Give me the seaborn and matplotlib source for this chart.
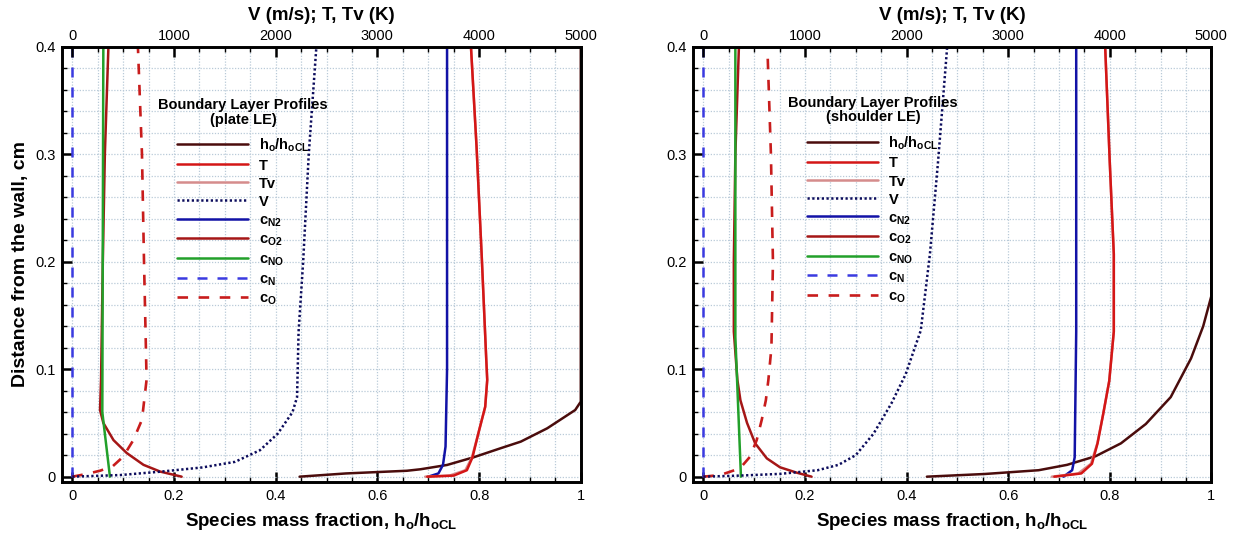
import matplotlib
matplotlib.use("Agg")
import matplotlib.pyplot as plt
from matplotlib.ticker import MultipleLocator, FuncFormatter
import seaborn as sns

# ---------------- data ----------------
# distance from the wall (cm) and profile values
# --- plate LE (left panel) ---
PL_HO_Y = [0, 0.003, 0.0055, 0.0069, 0.0109, 0.018, 0.0264, 0.0326, 0.045, 0.062, 0.0698, 0.4]
PL_HO = [0.447, 0.538, 0.658, 0.685, 0.737, 0.789, 0.842, 0.882, 0.934, 0.989, 1.0, 1.0]
PL_T_Y = [0, 0.001, 0.006, 0.018, 0.043, 0.065, 0.09, 0.11, 0.207, 0.307, 0.4]
PL_T = [3490, 3750, 3880, 3935, 4000, 4060, 4080, 4070, 4025, 3975, 3920]
PL_TV = [3470, 3710, 3865, 3930, 4000, 4060, 4080, 4070, 4025, 3975, 3920]
PL_V_Y = [0, 0.0015, 0.0046, 0.0086, 0.0138, 0.0246, 0.04, 0.06, 0.074, 0.135, 0.2, 0.3, 0.4]
PL_V = [0, 470, 860, 1280, 1600, 1845, 2020, 2165, 2210, 2225, 2270, 2325, 2400]
PL_N2_Y = [0, 0.003, 0.011, 0.028, 0.1, 0.4]
PL_N2 = [0.70, 0.72, 0.729, 0.734, 0.737, 0.737]
PL_O2_Y = [0, 0.0047, 0.011, 0.022, 0.034, 0.050, 0.062, 0.09, 0.2, 0.3, 0.4]
PL_O2 = [0.215, 0.173, 0.14, 0.107, 0.081, 0.061, 0.0545, 0.0565, 0.06, 0.064, 0.071]
PL_NO_Y = [0, 0.06, 0.4]
PL_NO = [0.074, 0.059, 0.061]
PL_N_Y = [0, 0.4]
PL_N = [0.0, 0.0]
PL_O_Y = [0, 0.0025, 0.0056, 0.0099, 0.0186, 0.034, 0.053, 0.09, 0.114, 0.2, 0.3, 0.4]
PL_O = [0, 0.028, 0.055, 0.08, 0.1, 0.12, 0.137, 0.146, 0.145, 0.141, 0.137, 0.129]

# --- shoulder LE (right panel) ---
SH_HO_Y = [0, 0.0025, 0.006, 0.011, 0.019, 0.031, 0.049, 0.074, 0.11, 0.14, 0.168, 0.4]
SH_HO = [0.44, 0.554, 0.66, 0.716, 0.772, 0.822, 0.871, 0.92, 0.96, 0.984, 1.0, 1.0]
SH_T_Y = [0, 0.003, 0.012, 0.031, 0.058, 0.089, 0.135, 0.207, 0.293, 0.4]
SH_T = [3455, 3720, 3825, 3880, 3935, 3995, 4040, 4040, 4000, 3955]
SH_TV = [3430, 3690, 3815, 3878, 3935, 3995, 4040, 4040, 4000, 3955]
SH_V_Y = [0, 0.001, 0.0026, 0.006, 0.011, 0.02, 0.04, 0.068, 0.095, 0.136, 0.207, 0.293, 0.4]
SH_V = [0, 360, 755, 1125, 1330, 1500, 1675, 1850, 1990, 2140, 2230, 2310, 2400]
SH_N2_Y = [0, 0.006, 0.018, 0.135, 0.4]
SH_N2 = [0.709, 0.726, 0.731, 0.734, 0.734]
SH_O2_Y = [0, 0.0037, 0.0087, 0.017, 0.031, 0.05, 0.071, 0.09, 0.135, 0.2, 0.3, 0.4]
SH_O2 = [0.213, 0.184, 0.151, 0.125, 0.102, 0.086, 0.073, 0.067, 0.06, 0.06, 0.063, 0.070]
SH_NO_Y = [0, 0.13, 0.4]
SH_NO = [0.074, 0.063, 0.063]
SH_N_Y = [0, 0.4]
SH_N = [0.0, 0.0]
SH_O_Y = [0, 0.0015, 0.0077, 0.0186, 0.034, 0.053, 0.071, 0.09, 0.12, 0.2, 0.3, 0.4]
SH_O = [0, 0.033, 0.072, 0.092, 0.105, 0.115, 0.123, 0.128, 0.134, 0.137, 0.133, 0.126]

LABELS = ["h$_o$/h$_{oCL}$", "T", "Tv", "V", "c$_{N2}$", "c$_{O2}$",
          "c$_{NO}$", "c$_N$", "c$_O$"]
TITLES = ["Boundary Layer Profiles\n(plate LE)", "Boundary Layer Profiles\n(shoulder LE)"]
XLABEL = "Species mass fraction, h$_o$/h$_{oCL}$"
TOPLABEL = "V (m/s); T, Tv (K)"
YLABEL = "Distance from the wall, cm"
X_TICKS = [0, 0.2, 0.4, 0.6, 0.8, 1.0]
Y_TICKS = [0, 0.1, 0.2, 0.3, 0.4]
TOP_TICKS = [0, 1000, 2000, 3000, 4000, 5000]

# ---------------- style ----------------
sns.set_theme(style="white")
plt.rcParams['font.family'] = ['Liberation Sans', 'DejaVu Sans']
plt.rcParams['mathtext.fontset'] = 'custom'
plt.rcParams['mathtext.rm'] = 'Liberation Sans:bold'
plt.rcParams['mathtext.bf'] = 'Liberation Sans:bold'
plt.rcParams['mathtext.it'] = 'Liberation Sans:bold'
plt.rcParams['mathtext.default'] = 'bf'
for k in ('text.color', 'axes.labelcolor', 'xtick.color', 'ytick.color', 'axes.edgecolor'):
    plt.rcParams[k] = 'black'

XLIM = (-0.0197, 1.0)
YLIM = (-0.0047, 0.4)
TOP_SCALE = 5000.0
LW = 1.8
STY = {
    'ho': dict(color='#4a0c0c', lw=LW, linestyle='-'),
    'T': dict(color='#d41616', lw=LW, linestyle='-'),
    'Tv': dict(color='#d58c8c', lw=LW, linestyle='-'),
    'V': dict(color='#0c0c5c', lw=1.8, linestyle=(0, (0.9, 1.0))),
    'N2': dict(color='#1212a6', lw=LW, linestyle='-'),
    'O2': dict(color='#a51616', lw=LW, linestyle='-'),
    'NO': dict(color='#22a02a', lw=LW, linestyle='-'),
    'N': dict(color='#3a3ae0', lw=LW, linestyle=(0, (4.0, 4.0))),
    'O': dict(color='#c81c1c', lw=1.9, linestyle=(0, (4.0, 4.0))),
}
GRID_COLOR = '#b9cad8'

fig = plt.figure(figsize=(12.41, 5.33), dpi=100)

def fmt(v, p):
    return f"{v:g}"

def panel(rect, title, anchor, show_ylabel, ho_y, ho, t_y, t, tv, v_y, v,
          n2_y, n2, o2_y, o2, no_y, no, n_y, n, o_y, o):
    ax = fig.add_axes(rect)
    ax.set_xlim(*XLIM)
    ax.set_ylim(*YLIM)
    ax2 = ax.twiny()
    ax2.set_xlim(XLIM[0] * TOP_SCALE, XLIM[1] * TOP_SCALE)

    handles = {}
    def draw(target, xs, ys, key, label):
        sns.lineplot(x=xs, y=ys, ax=target, sort=False, estimator=None,
                     legend=False, label=label, **STY[key])
        handles[key] = target.lines[-1]

    draw(ax, ho, ho_y, 'ho', LABELS[0])
    draw(ax, n2, n2_y, 'N2', LABELS[4])
    draw(ax, o2, o2_y, 'O2', LABELS[5])
    draw(ax, no, no_y, 'NO', LABELS[6])
    draw(ax, n, n_y, 'N', LABELS[7])
    draw(ax, o, o_y, 'O', LABELS[8])
    draw(ax2, tv, t_y, 'Tv', LABELS[2])
    draw(ax2, t, t_y, 'T', LABELS[1])
    draw(ax2, v, v_y, 'V', LABELS[3])
    ax2.set_ylim(*YLIM)

    # ticks and grid
    ax.set_xticks(X_TICKS)
    ax.set_yticks(Y_TICKS)
    ax.xaxis.set_minor_locator(MultipleLocator(0.05))
    ax.yaxis.set_minor_locator(MultipleLocator(0.02))
    ax.xaxis.set_major_formatter(FuncFormatter(fmt))
    ax.yaxis.set_major_formatter(FuncFormatter(fmt))
    ax.grid(True, which='both', color=GRID_COLOR, linestyle=(0, (1, 1.3)), lw=0.9)
    ax.set_axisbelow(True)
    ax.tick_params(which='major', direction='in', length=7, width=1.8,
                   labelsize=10.5, colors='black', top=False, right=False, pad=5)
    ax.tick_params(which='minor', direction='in', length=3.5, width=1.0,
                   top=False, right=False)
    ax.tick_params(axis='x', which='both', bottom=True)
    ax.tick_params(axis='y', which='both', left=True)

    ax2.set_xticks(TOP_TICKS)
    ax2.xaxis.set_minor_locator(MultipleLocator(250))
    ax2.tick_params(axis='x', which='major', direction='in', length=7, width=1.8,
                    labelsize=10.5, pad=3, top=True, colors='black')
    ax2.tick_params(axis='x', which='minor', direction='in', length=3.5, width=1.0, top=True)
    ax2.grid(False)

    for a in (ax, ax2):
        for s in a.spines.values():
            s.set_linewidth(1.9)
            s.set_color('black')

    ax.set_xlabel(XLABEL, fontsize=13.5, fontweight='bold', labelpad=6)
    ax2.set_xlabel(TOPLABEL, fontsize=13.5, fontweight='bold', labelpad=6)
    if show_ylabel:
        ax.set_ylabel(YLABEL, fontsize=14, fontweight='bold')
        ax.yaxis.set_label_coords(-0.064, 0.5)

    order = ['ho', 'T', 'Tv', 'V', 'N2', 'O2', 'NO', 'N', 'O']
    leg = ax2.legend([handles[k] for k in order], LABELS, title=title,
                     loc='upper left', bbox_to_anchor=anchor, frameon=False,
                     fontsize=10.5, title_fontsize=10.5, handlelength=4.85,
                     handletextpad=0.73, labelspacing=0.255, handleheight=1.0,
                     borderpad=0, borderaxespad=0, alignment='center')
    leg.get_title().set_fontweight('bold')
    leg.get_title().set_multialignment('center')
    leg.get_title().set_linespacing(1.05)
    leg._legend_box.sep = 7.5
    for tx in leg.get_texts():
        tx.set_fontweight('bold')
    return ax, ax2

panel([0.0502, 0.0962, 0.4178, 0.8162], TITLES[0], (0.185, 0.882), True,
      PL_HO_Y, PL_HO, PL_T_Y, PL_T, PL_TV, PL_V_Y, PL_V,
      PL_N2_Y, PL_N2, PL_O2_Y, PL_O2, PL_NO_Y, PL_NO, PL_N_Y, PL_N, PL_O_Y, PL_O)
panel([0.5587, 0.0962, 0.4174, 0.8162], TITLES[1], (0.183, 0.887), False,
      SH_HO_Y, SH_HO, SH_T_Y, SH_T, SH_TV, SH_V_Y, SH_V,
      SH_N2_Y, SH_N2, SH_O2_Y, SH_O2, SH_NO_Y, SH_NO, SH_N_Y, SH_N, SH_O_Y, SH_O)

fig.savefig("out.png", dpi=100)
